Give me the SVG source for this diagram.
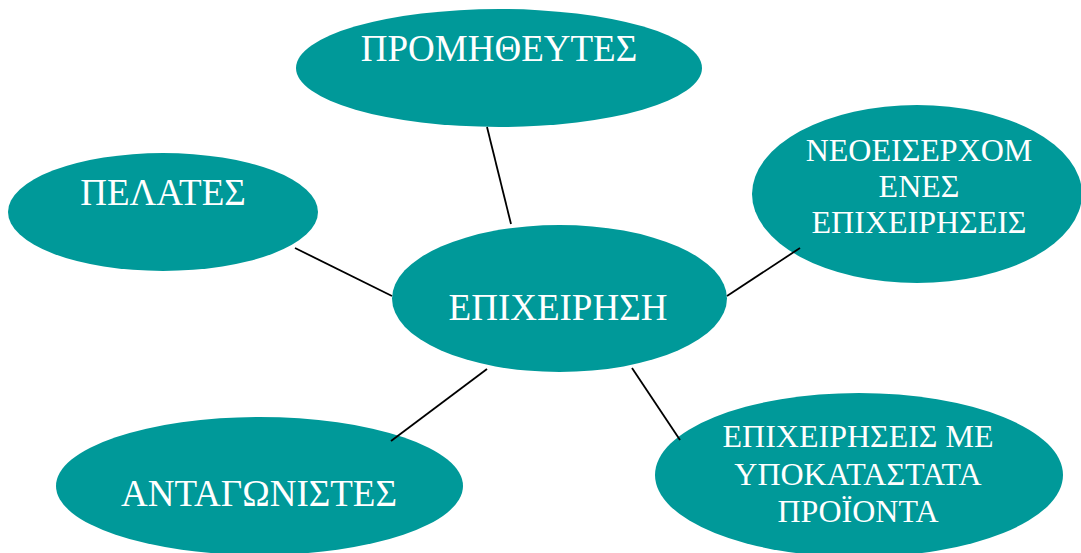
<svg xmlns="http://www.w3.org/2000/svg" width="1081" height="553" viewBox="0 0 1081 553">
<style>
.n{fill:#009999;stroke:none}
.t{fill:#ffffff;font-family:"Liberation Serif","Times New Roman",serif;font-size:37px;text-anchor:middle}
.s{font-size:32px}
.c line{stroke:#000000;stroke-width:1.8}
</style>
<rect width="1081" height="553" fill="#ffffff"/>
<g id="n-promitheutes">
<ellipse class="n" cx="499" cy="68" rx="203" ry="59"/>
<text class="t" x="499" y="61">ΠΡΟΜΗΘΕΥΤΕΣ</text>
</g>
<g id="n-pelates">
<ellipse class="n" cx="163" cy="212" rx="155" ry="59"/>
<text class="t" x="163" y="205">ΠΕΛΑΤΕΣ</text>
</g>
<g id="n-neoeiserxomenes">
<ellipse class="n" cx="917" cy="194" rx="165" ry="89"/>
<text class="t s" x="919" y="161">ΝΕΟΕΙΣΕΡΧΟΜ</text>
<text class="t s" x="919" y="197">ΕΝΕΣ</text>
<text class="t s" x="919" y="233">ΕΠΙΧΕΙΡΗΣΕΙΣ</text>
</g>
<g id="n-epixeirisi">
<ellipse class="n" cx="559.5" cy="298.5" rx="167.5" ry="73.5"/>
<text class="t" x="558" y="320">ΕΠΙΧΕΙΡΗΣΗ</text>
</g>
<g id="n-antagonistes">
<ellipse class="n" cx="259.5" cy="486" rx="203.5" ry="69"/>
<text class="t" x="259" y="506">ΑΝΤΑΓΩΝΙΣΤΕΣ</text>
</g>
<g id="n-ypokatastata">
<ellipse class="n" cx="859" cy="475" rx="204" ry="82"/>
<text class="t s" x="858" y="447">ΕΠΙΧΕΙΡΗΣΕΙΣ ΜΕ</text>
<text class="t s" x="858" y="485">ΥΠΟΚΑΤΑΣΤΑΤΑ</text>
<text class="t s" x="858" y="522">ΠΡΟΪΟΝΤΑ</text>
</g>
<g class="c" id="connectors">
<line x1="487" y1="127" x2="511" y2="224"/>
<line x1="295" y1="248" x2="392" y2="296"/>
<line x1="727" y1="296" x2="800" y2="248"/>
<line x1="487" y1="369" x2="391" y2="441"/>
<line x1="632" y1="368" x2="680" y2="440"/>
</g>
</svg>
